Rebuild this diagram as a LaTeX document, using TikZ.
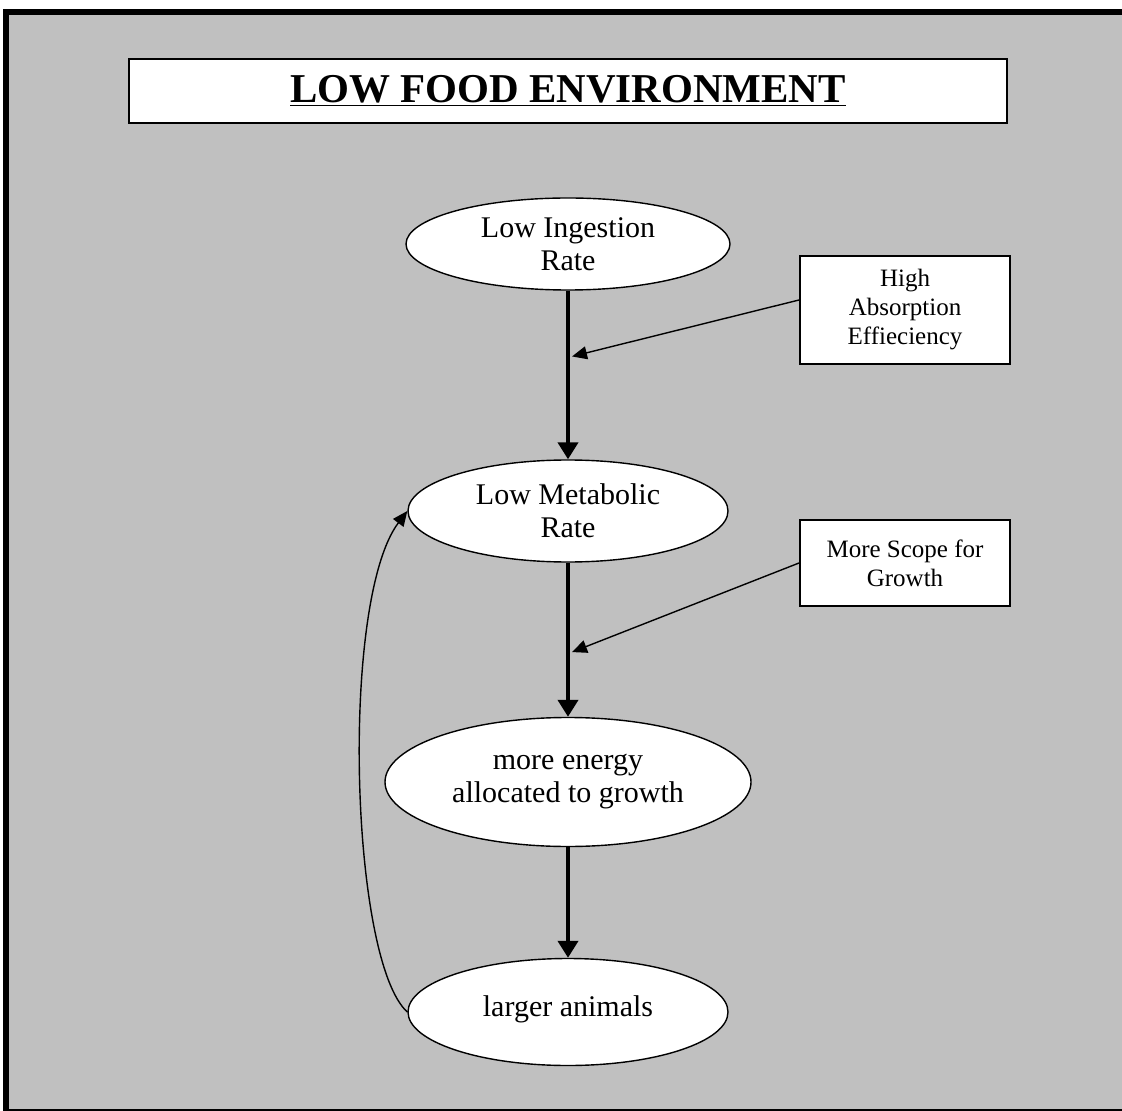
\documentclass[tikz,border=0pt]{standalone}
\usepackage{fontspec}
\setmainfont{Liberation Serif}
\usetikzlibrary{calc}
\usetikzlibrary{arrows.meta}
\usetikzlibrary{shapes.geometric}
\definecolor{bg}{HTML}{C0C0C0}

\begin{document}
\begin{tikzpicture}[x=0.5pt,y=-0.5pt]
\tikzstyle{oval}=[draw,fill=white,shape=ellipse,line width=0.7pt,align=center,inner sep=0pt,font=\fontsize{15}{16.5}\selectfont]
\tikzstyle{note}=[draw,fill=white,shape=rectangle,line width=1pt,align=center,inner sep=0pt,minimum width=105pt,font=\fontsize{12.5}{14.5}\selectfont]
\tikzstyle{main}=[line width=2pt,-{Triangle[length=8.5pt,width=10pt]}]
\tikzstyle{side}=[line width=0.7pt,-{Triangle[length=7.5pt,width=6.5pt]}]

\useasboundingbox (0,0) rectangle (1122,1111);
\clip (0,0) rectangle (1122,1111);
\draw[line width=3pt,fill=bg] (6,12) rectangle (1140,1112);
%
\node[draw,fill=white,line width=1pt,minimum width=439pt,minimum height=32pt,font=\fontsize{20.5}{24}\selectfont\bfseries](title) at (568,91){\underline{LOW FOOD ENVIRONMENT}};
%
\node[oval,minimum width=162pt,minimum height=46pt](e1) at (568,244){Low Ingestion\\Rate};
\node[oval,minimum width=160pt,minimum height=51pt](e2) at (568,511){Low Metabolic\\Rate};
\node[oval,minimum width=183pt,minimum height=64.5pt](e3) at (568,782){more energy\\allocated to growth};
\node[oval,minimum width=160pt,minimum height=53.5pt](e4) at (568,1012){\raisebox{6pt}{larger animals}};
%
\node[note,minimum height=54pt](n1) at (905,310){High\\Absorption\\Effieciency};
\node[note,minimum height=43pt](n2) at (905,563){More Scope for\\Growth};
%
\coordinate (m1) at ($(e1.south)!0.39!(e2.north)$);
\coordinate (m2) at ($(e2.south)!0.58!(e3.north)$);
%
\draw[main] (e1) -- (e2);
\draw[main] (e2) -- (e3);
\draw[main] (e3) -- (e4);
\draw[side] ($(n1.west)+(0,-10)$) -- ([xshift=2pt]m1);
\draw[side] (n2.west) -- ([xshift=2pt]m2);
\draw[side] (e4.west) .. controls (350,960) and (340,600) .. (e2.west);
\end{tikzpicture}
\end{document}
